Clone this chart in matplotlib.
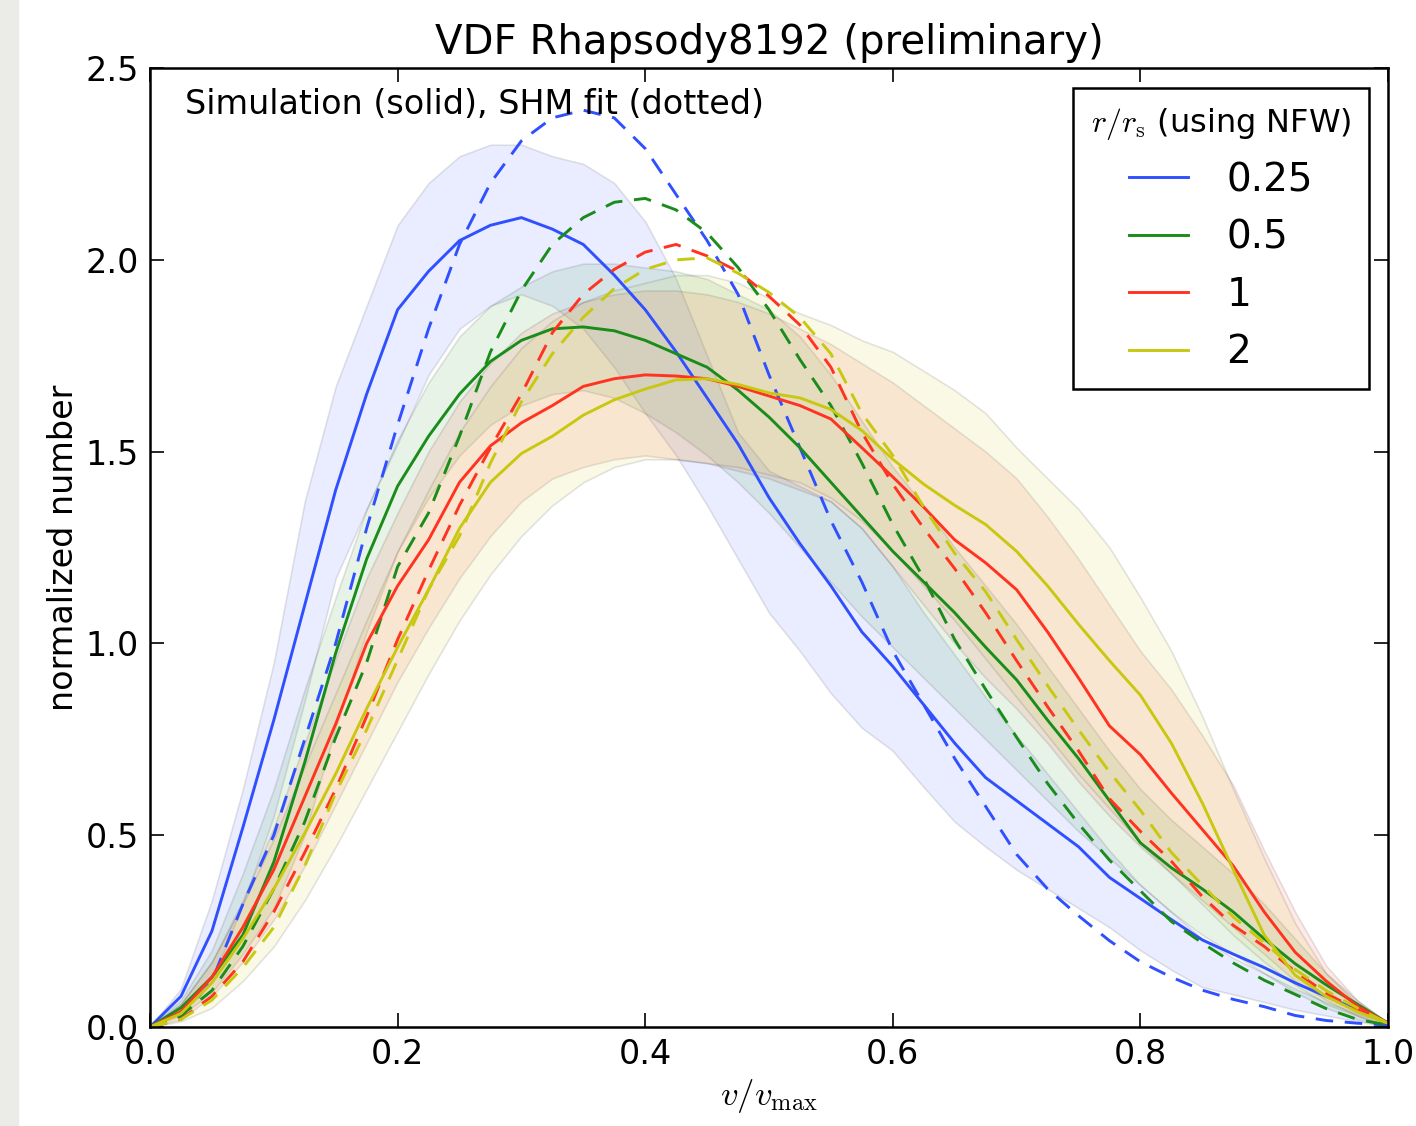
import numpy as np
import matplotlib
matplotlib.use('Agg')
from matplotlib import pyplot as plt
from matplotlib.patches import Rectangle

plt.rcParams['mathtext.fontset'] = 'cm'

# v/vmax grid
v = np.linspace(0, 1, 41)

# simulation (solid) curves
sim_025 = [0, 0.08, 0.25, 0.52, 0.80, 1.10, 1.40, 1.65, 1.87, 1.97, 2.05, 2.09, 2.11, 2.08, 2.04, 1.96,
           1.87, 1.76, 1.64, 1.52, 1.38, 1.26, 1.15, 1.03, 0.94, 0.84, 0.74, 0.65, 0.59, 0.53, 0.47,
           0.39, 0.335, 0.28, 0.227, 0.19, 0.155, 0.115, 0.08, 0.045, 0.01]
sim_05 = [0, 0.05, 0.13, 0.24, 0.43, 0.69, 0.975, 1.22, 1.41, 1.54, 1.65, 1.735, 1.79, 1.82, 1.825, 1.815,
          1.79, 1.755, 1.72, 1.66, 1.59, 1.51, 1.42, 1.33, 1.24, 1.16, 1.08, 0.99, 0.905, 0.80, 0.70,
          0.59, 0.48, 0.415, 0.36, 0.30, 0.23, 0.165, 0.11, 0.06, 0.01]
sim_1 = [0, 0.04, 0.13, 0.26, 0.41, 0.60, 0.79, 1.00, 1.15, 1.27, 1.42, 1.515, 1.575, 1.62, 1.67, 1.69,
         1.70, 1.697, 1.69, 1.67, 1.645, 1.62, 1.585, 1.51, 1.434, 1.355, 1.27, 1.21, 1.14, 1.03, 0.91,
         0.785, 0.71, 0.61, 0.515, 0.42, 0.30, 0.195, 0.12, 0.055, 0.01]
sim_2 = [0, 0.035, 0.115, 0.23, 0.36, 0.505, 0.66, 0.83, 0.99, 1.14, 1.30, 1.42, 1.495, 1.54, 1.595, 1.635,
         1.663, 1.687, 1.69, 1.675, 1.653, 1.64, 1.61, 1.555, 1.48, 1.415, 1.36, 1.31, 1.24, 1.15, 1.05,
         0.955, 0.865, 0.74, 0.584, 0.41, 0.24, 0.135, 0.08, 0.04, 0.01]

# SHM fit (dashed) curves
shm_025 = [0, 0.025, 0.12, 0.32, 0.50, 0.75, 1.00, 1.30, 1.57, 1.82, 2.04, 2.20, 2.31, 2.37, 2.39, 2.37,
           2.29, 2.17, 2.05, 1.91, 1.70, 1.51, 1.32, 1.16, 0.98, 0.84, 0.70, 0.575, 0.45, 0.36, 0.29,
           0.225, 0.17, 0.13, 0.096, 0.072, 0.053, 0.03, 0.017, 0.01, 0.005]
shm_05 = [0, 0.03, 0.095, 0.21, 0.36, 0.535, 0.755, 0.95, 1.20, 1.34, 1.54, 1.76, 1.92, 2.04, 2.11, 2.15,
          2.16, 2.13, 2.07, 1.98, 1.87, 1.74, 1.62, 1.47, 1.31, 1.17, 1.01, 0.88, 0.755, 0.635, 0.53,
          0.435, 0.355, 0.275, 0.219, 0.167, 0.122, 0.085, 0.048, 0.02, 0.005]
shm_1 = [0, 0.02, 0.08, 0.17, 0.30, 0.455, 0.62, 0.81, 1.01, 1.19, 1.36, 1.51, 1.65, 1.81, 1.91, 1.975,
         2.02, 2.04, 2.01, 1.97, 1.905, 1.83, 1.72, 1.55, 1.415, 1.30, 1.195, 1.08, 0.955, 0.835, 0.72,
         0.595, 0.51, 0.432, 0.34, 0.265, 0.21, 0.145, 0.088, 0.045, 0.01]
shm_2 = [0, 0.02, 0.07, 0.155, 0.26, 0.42, 0.61, 0.775, 0.957, 1.14, 1.28, 1.47, 1.63, 1.755, 1.85, 1.925,
         1.975, 2.0, 2.005, 1.965, 1.915, 1.85, 1.755, 1.60, 1.49, 1.355, 1.235, 1.135, 1.01, 0.89, 0.775,
         0.665, 0.565, 0.455, 0.37, 0.287, 0.22, 0.15, 0.095, 0.05, 0.01]

# scatter bands (lower / upper)
lo_025 = [0, 0.04, 0.12, 0.32, 0.55, 0.85, 1.17, 1.35, 1.52, 1.70, 1.82, 1.88, 1.91, 1.88, 1.82, 1.72,
          1.60, 1.49, 1.36, 1.22, 1.08, 0.98, 0.87, 0.78, 0.72, 0.625, 0.535, 0.47, 0.41, 0.36, 0.31,
          0.26, 0.20, 0.149, 0.104, 0.085, 0.065, 0.045, 0.03, 0.015, 0.0]
hi_025 = [0, 0.10, 0.33, 0.62, 0.95, 1.37, 1.67, 1.88, 2.09, 2.20, 2.27, 2.30, 2.30, 2.27, 2.25, 2.20,
          2.10, 1.95, 1.75, 1.55, 1.45, 1.41, 1.37, 1.30, 1.20, 1.08, 0.97, 0.86, 0.76, 0.66, 0.56,
          0.46, 0.37, 0.30, 0.23, 0.18, 0.14, 0.10, 0.065, 0.035, 0.01]
lo_05 = [0, 0.03, 0.09, 0.19, 0.31, 0.50, 0.78, 1.03, 1.24, 1.38, 1.49, 1.57, 1.62, 1.65, 1.66, 1.64,
         1.60, 1.55, 1.49, 1.42, 1.34, 1.25, 1.16, 1.07, 0.99, 0.91, 0.83, 0.75, 0.67, 0.59, 0.51,
         0.44, 0.37, 0.30, 0.24, 0.19, 0.14, 0.09, 0.05, 0.02, 0.0]
hi_05 = [0, 0.07, 0.20, 0.40, 0.62, 0.88, 1.12, 1.35, 1.53, 1.68, 1.80, 1.88, 1.93, 1.97, 1.99, 1.99,
         1.98, 1.97, 1.95, 1.91, 1.87, 1.80, 1.70, 1.58, 1.46, 1.36, 1.25, 1.15, 1.05, 0.94, 0.83,
         0.72, 0.62, 0.54, 0.47, 0.40, 0.32, 0.23, 0.14, 0.07, 0.01]
lo_1 = [0, 0.02, 0.08, 0.17, 0.28, 0.42, 0.58, 0.74, 0.90, 1.04, 1.17, 1.28, 1.37, 1.43, 1.46, 1.48,
        1.49, 1.48, 1.47, 1.45, 1.43, 1.40, 1.37, 1.30, 1.20, 1.10, 1.00, 0.91, 0.83, 0.74, 0.64,
        0.55, 0.47, 0.40, 0.33, 0.26, 0.19, 0.12, 0.07, 0.03, 0.0]
hi_1 = [0, 0.06, 0.17, 0.33, 0.52, 0.74, 0.96, 1.17, 1.34, 1.50, 1.63, 1.73, 1.81, 1.86, 1.89, 1.91,
        1.92, 1.92, 1.91, 1.89, 1.86, 1.82, 1.78, 1.73, 1.68, 1.62, 1.56, 1.50, 1.43, 1.33, 1.22,
        1.10, 0.98, 0.88, 0.76, 0.63, 0.46, 0.30, 0.16, 0.07, 0.01]
lo_2 = [0, 0.015, 0.05, 0.12, 0.21, 0.33, 0.47, 0.62, 0.77, 0.92, 1.06, 1.18, 1.28, 1.36, 1.42, 1.46,
        1.48, 1.48, 1.47, 1.46, 1.44, 1.42, 1.38, 1.32, 1.24, 1.15, 1.06, 0.96, 0.86, 0.76, 0.66,
        0.57, 0.48, 0.40, 0.32, 0.24, 0.17, 0.11, 0.06, 0.03, 0.0]
hi_2 = [0, 0.06, 0.17, 0.32, 0.49, 0.68, 0.87, 1.06, 1.24, 1.40, 1.55, 1.67, 1.77, 1.84, 1.89, 1.92,
        1.94, 1.96, 1.96, 1.94, 1.90, 1.86, 1.83, 1.79, 1.76, 1.71, 1.66, 1.60, 1.51, 1.43, 1.35,
        1.25, 1.12, 0.98, 0.81, 0.62, 0.44, 0.27, 0.14, 0.06, 0.01]

labels = ['0.25', '0.5', '1', '2']
colours = ['#3050ff', '#1a8c1a', '#ff3320', '#c8c810']

sims = [sim_025, sim_05, sim_1, sim_2]
shms = [shm_025, shm_05, shm_1, shm_2]
los = [lo_025, lo_05, lo_1, lo_2]
his = [hi_025, hi_05, hi_1, hi_2]

fig = plt.figure(figsize=(14.16, 11.26), dpi=100)
fig.patches.append(Rectangle((0, 0), 18/1416., 1, transform=fig.transFigure,
                             color='#ebebe8', zorder=-1))
ax = fig.add_axes([150/1416., 99/1126., 1238/1416., 959/1126.])

for lo, hi, c in zip(los, his, colours):
    ax.fill_between(v, lo, hi, facecolor=c, edgecolor='k', alpha=0.1, linewidth=1.2)
for s, d, c, lab in zip(sims, shms, colours, labels):
    ax.plot(v, s, '-', color=c, lw=2.1, label=lab)
    ax.plot(v, d, '--', color=c, lw=2.1, dashes=(6, 4))

ax.set_xlim(0, 1)
ax.set_ylim(0, 2.5)
ax.set_xticks(np.arange(0, 1.01, 0.2))
ax.set_yticks(np.arange(0, 2.51, 0.5))
ax.tick_params(direction='in', length=10, width=1.2, top=True, right=True, labelsize=24, pad=8)
for sp in ax.spines.values():
    sp.set_linewidth(1.8)

ax.set_title('VDF Rhapsody8192 (preliminary)', fontsize=29, pad=10)
ax.set_xlabel(r'$v/v_\mathrm{max}$', fontsize=25, labelpad=4)
ax.set_ylabel('normalized number', fontsize=24, labelpad=4)
ax.text(0.028, 0.962, 'Simulation (solid), SHM fit (dotted)', transform=ax.transAxes,
        fontsize=24, va='center', ha='left')

leg = ax.legend(loc='upper right', title=r'$r/r_\mathrm{s}$ (using NFW)', fontsize=28,
                title_fontsize=23, fancybox=False, edgecolor='k', framealpha=1,
                handlelength=1.5, handletextpad=1.0, labelspacing=0.5,
                borderpad=0.45, borderaxespad=0, bbox_to_anchor=(0.9846, 0.979))
leg.get_frame().set_linewidth(1.8)

plt.savefig('out.png', dpi=100)
